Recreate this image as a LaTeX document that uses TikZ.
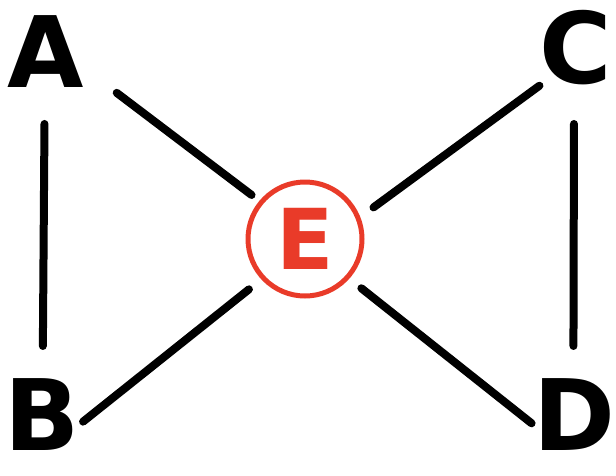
\documentclass[tikz,border=0pt]{standalone}
\usepackage{fontspec}
\setmainfont{DejaVu Sans}
\usepackage{xcolor}
\usetikzlibrary{arrows.meta}
\definecolor{markRed}{RGB}{233,59,41}

\begin{document}
\begin{tikzpicture}[
    x=0.75pt, y=-0.75pt,
    letter/.style ={rectangle, inner sep=0pt, outer sep=0pt, font=\fontsize{74}{78}\selectfont\bfseries},
    hub/.style    ={circle, inner sep=0pt, outer sep=0pt, minimum size=85.5pt, draw=markRed, line width=3.75pt, text=markRed, font=\fontsize{63}{66}\selectfont\bfseries},
    link/.style   ={line width=6pt, line cap=round, draw=black}
]
\useasboundingbox (0,0) rectangle (616,475);
\node[letter] (A) at (46,52) {A};
\node[letter] (B) at (42,415) {B};
\node[letter] (C) at (576,48) {C};
\node[letter] (D) at (574,415) {D};
\node[hub] (E) at (305,239) {E};
\draw[link, shorten <=27pt, shorten >=24.8pt] (A.-92.5) -- (B.89.1);
\draw[link, shorten <=29pt, shorten >=24.8pt] (C.267.6) -- (D.91.8);
\draw[link, shorten <=30.6pt, shorten >=9.2pt] (A.-23.3) -- (E.140);
\draw[link, shorten <=0.5pt, shorten >=14.2pt] (C.226.7) -- (E.21.2);
\draw[link, shorten <=3.3pt, shorten >=13.8pt] (B.-14.7) -- (E.223.3);
\draw[link, shorten <=1.4pt, shorten >=13.4pt] (D.193) -- (E.-42.7);
\end{tikzpicture}
\end{document}
